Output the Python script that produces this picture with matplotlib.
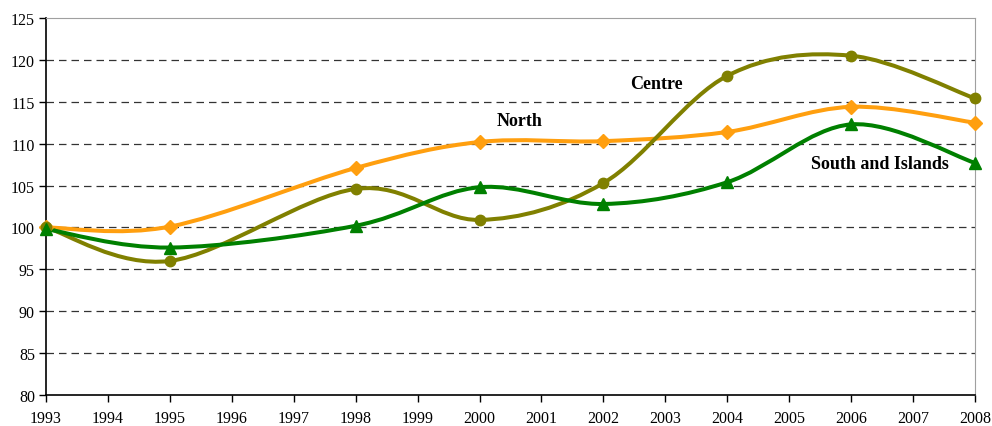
import numpy as np
import matplotlib
matplotlib.use("Agg")
import matplotlib.pyplot as plt
from matplotlib.path import Path
from matplotlib.patches import PathPatch

plt.rcParams['font.family'] = ['Liberation Serif', 'DejaVu Serif']

# Data (index, 1993 = 100)
years = [1993, 1995, 1998, 2000, 2002, 2004, 2006, 2008]
north = [100.0, 100.1, 107.1, 110.2, 110.3, 111.4, 114.4, 112.5]
centre = [100.0, 96.0, 104.6, 100.9, 105.3, 118.1, 120.5, 115.4]
south = [99.8, 97.6, 100.2, 104.8, 102.8, 105.4, 112.3, 107.7]

x_ticks = list(range(1993, 2009))
y_ticks = list(range(80, 130, 5))


def smooth_path(xs, ys):
    # Excel-like smoothed line: cubic Bezier through the points
    pts = np.column_stack([xs, ys]).astype(float)
    n = len(pts)
    verts = [pts[0]]
    codes = [Path.MOVETO]
    for i in range(n - 1):
        p0 = pts[max(i - 1, 0)]
        p1 = pts[i]
        p2 = pts[i + 1]
        p3 = pts[min(i + 2, n - 1)]
        c1 = p1 + (p2 - p0) / 6.0
        c2 = p2 - (p3 - p1) / 6.0
        verts += [c1, c2, p2]
        codes += [Path.CURVE4] * 3
    return Path(verts, codes)


fig = plt.figure(figsize=(9.92, 4.27), dpi=100)
ax = fig.add_axes([0.0464, 0.0726, 0.9365, 0.8829])

series = [
    (north, '#FF9F0F', 'D', 7),
    (centre, '#808000', 'o', 7.5),
    (south, '#008000', '^', 8.5),
]
for vals, col, mk, ms in series:
    patch = PathPatch(smooth_path(years, vals), facecolor='none', edgecolor=col,
                      lw=2.9, capstyle='round', joinstyle='round', zorder=3)
    ax.add_patch(patch)
    ax.plot(years, vals, linestyle='none', marker=mk, color=col, ms=ms,
            zorder=4, clip_on=False)

ax.set_xlim(1993, 2008)
ax.set_ylim(80, 125)
ax.set_xticks(x_ticks)
ax.set_yticks(y_ticks)
ax.tick_params(axis='both', direction='out', length=5, width=1, labelsize=11.5,
               colors='black', pad=3)
ax.tick_params(axis='x', pad=6)

for y in y_ticks[1:-1]:
    ax.axhline(y, color='#333333', lw=0.9, ls=(0, (6, 4)), zorder=1)

ax.spines['left'].set_color('black')
ax.spines['bottom'].set_color('black')
ax.spines['left'].set_linewidth(1.2)
ax.spines['bottom'].set_linewidth(1.2)
ax.spines['top'].set_color('#A0A0A0')
ax.spines['right'].set_color('#A0A0A0')

ax.text(2002.85, 117.2, 'Centre', fontsize=13, fontweight='bold',
        ha='center', va='center')
ax.text(2000.65, 112.8, 'North', fontsize=13, fontweight='bold',
        ha='center', va='center')
ax.text(2006.47, 107.6, 'South and Islands', fontsize=13, fontweight='bold',
        ha='center', va='center')

fig.savefig('out.png', dpi=100)
